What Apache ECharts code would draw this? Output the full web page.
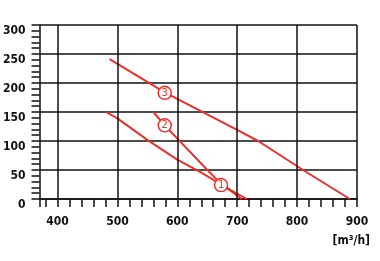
<!DOCTYPE html>
<html>
<head>
<meta charset="utf-8">
<script src="https://cdn.jsdelivr.net/npm/echarts@6/dist/echarts.min.js"></script>
<style>
  html, body { margin: 0; padding: 0; background: #fff; }
  #chart { width: 380px; height: 261px; }
</style>
</head>
<body>
<div id="chart"></div>
<script>
// airflow in m3/h on x, pressure on y
const xLabels = [400, 500, 600, 700, 800, 900]
const xTicks = [370, 380, 400, 420, 440, 460, 480, 500, 520, 540, 560, 580, 600, 620, 640,
  660, 680, 700, 720, 740, 760, 780, 800, 820, 840, 860, 880, 900]
const yLabels = [0, 50, 100, 150, 200, 250, 300]

const curve1 = [[481, 150], [500, 139], [550, 102], [600, 68], [641, 45], [673, 25], [716, 0]]
const curve2 = [[560, 150], [579, 127], [641, 60], [673, 26], [708, 0]]
const curve3 = [[487, 241], [579, 184], [700, 119], [735, 100], [810, 50], [888, 0]]
const badges = [[673, 24, '1'], [579, 127, '2'], [579, 183, '3']]

const red = '#e8302c'
const fontName = '"DejaVu Sans Condensed", sans-serif'
const labelFont = {
  color: '#111',
  fontFamily: fontName,
  fontWeight: 'bold',
  fontSize: 12
}

let chart = echarts.init(document.getElementById('chart'))

let curveSeries = [curve1, curve2, curve3].map(pts => ({
  type: 'line',
  data: pts,
  symbol: 'none',
  z: 3,
  lineStyle: { color: red, width: 2 }
}))

chart.setOption({
  animation: false,
  grid: { left: 39, right: 23, top: 25, bottom: 62 },
  xAxis: {
    type: 'value',
    min: 370,
    max: 900,
    axisLine: { lineStyle: { color: '#111', width: 1.5 } },
    axisTick: { customValues: xTicks, length: 8, lineStyle: { color: '#111', width: 1.5 } },
    axisLabel: Object.assign({ customValues: xLabels, margin: 17 }, labelFont),
    splitLine: { show: false }
  },
  yAxis: {
    type: 'value',
    min: 0,
    max: 300,
    interval: 50,
    axisLine: { show: true, lineStyle: { color: '#111', width: 1.5 } },
    axisTick: { show: true, length: 8, lineStyle: { color: '#111', width: 1.5 } },
    minorTick: { show: true, splitNumber: 5, length: 8, lineStyle: { color: '#111', width: 1.5 } },
    axisLabel: Object.assign({ margin: 14, verticalAlign: 'top' }, labelFont),
    splitLine: { show: true, lineStyle: { color: '#111', width: 1.5 } }
  },
  graphic: [{
    type: 'text',
    right: 10,
    top: 235,
    style: { text: '[m³/h]', fill: '#111', font: 'bold 12px ' + fontName }
  }],
  series: [
    {
      // vertical grid lines at the labelled flows
      type: 'line',
      data: [],
      z: 1,
      markLine: {
        silent: true,
        symbol: 'none',
        label: { show: false },
        lineStyle: { color: '#111', width: 1.5, type: 'solid' },
        data: xLabels.map(v => ({ xAxis: v }))
      }
    },
    ...curveSeries,
    {
      type: 'scatter',
      data: badges,
      symbol: 'circle',
      symbolSize: 13,
      z: 5,
      itemStyle: { color: '#fff', borderColor: red, borderWidth: 1.5, opacity: 1 },
      label: {
        show: true,
        position: 'inside',
        formatter: p => p.value[2],
        color: red,
        fontSize: 11,
        fontFamily: fontName
      }
    }
  ]
})
</script>
</body>
</html>
